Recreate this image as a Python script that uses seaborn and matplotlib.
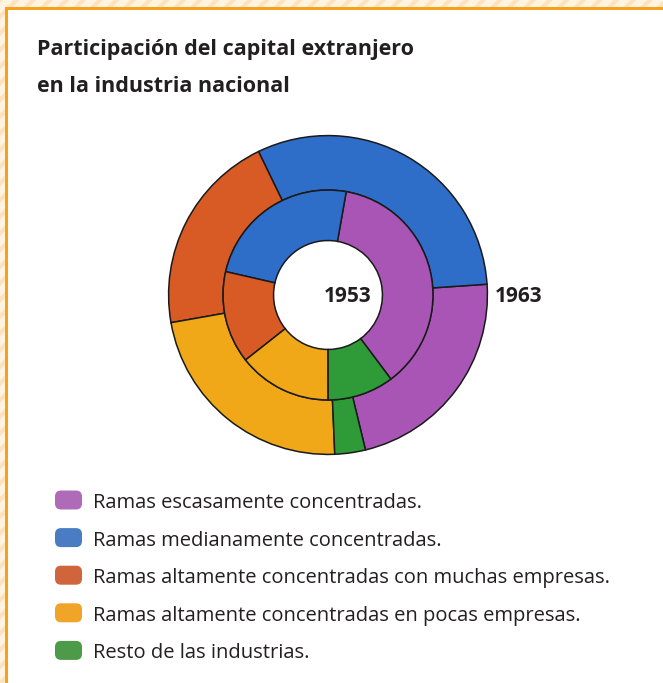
import matplotlib
matplotlib.use("Agg")
import matplotlib.pyplot as plt
import seaborn as sns
from matplotlib.patches import Rectangle, FancyBboxPatch

# Data: share of foreign capital by industry branch (percent)
categories = [
    "Ramas escasamente concentradas.",
    "Ramas medianamente concentradas.",
    "Ramas altamente concentradas con muchas empresas.",
    "Ramas altamente concentradas en pocas empresas.",
    "Resto de las industrias.",
]
share_1953 = [37.0, 24.2, 14.2, 14.4, 10.2]
share_1963 = [22.3, 31.1, 20.6, 22.9, 3.1]
years = ["1953", "1963"]
title_lines = ["Participación del capital extranjero", "en la industria nacional"]

colors = sns.color_palette(["#a855b5", "#2f6ec8", "#d85a25", "#f0a818", "#2f9a38"])
legend_colors = sns.color_palette(["#b06bb8", "#4a7cc4", "#d0643a", "#f0a428", "#4d9a48"])

sns.set_theme(style="white")
plt.rcParams["font.family"] = ["Open Sans", "DejaVu Sans"]
plt.rcParams["hatch.linewidth"] = 3.0

W, H = 663, 683
fig = plt.figure(figsize=(W / 100, H / 100), dpi=100)
px = fig.dpi_scale_trans


def iy(y):
    """image-style y (from top, px) -> inches from bottom"""
    return (H - y) / 100


# Page frame: striped margin, orange rule, white panel
fig.patches.append(Rectangle((0, 0), W / 100, H / 100, transform=px,
                             facecolor="#fff4e2", edgecolor="#fde3bd",
                             hatch="//", linewidth=0, zorder=0))
fig.patches.append(Rectangle((5 / 100, 0), W / 100, iy(7), transform=px,
                             facecolor="#f7a11a", edgecolor="none", zorder=1))
fig.patches.append(Rectangle((8 / 100, 0), W / 100, iy(10), transform=px,
                             facecolor="white", edgecolor="none", zorder=2))

# Title
for text, base in zip(title_lines, (55, 92)):
    fig.text(0.37, iy(base), text, transform=px, fontsize=15.5,
             fontweight="bold", color="#231f20", va="baseline")

# Nested donut
cx, cy, R = 328, 295, 161
ax = fig.add_axes([(cx - R) / W, (H - cy - R) / H, 2 * R / W, 2 * R / H])
ax.set_zorder(3)
edge = dict(edgecolor="#1a1a1a", linewidth=1.1)
ring_outer_in = 106 / 161
hole = 55 / 161
ax.pie(share_1963, colors=colors, radius=1.0, startangle=-76.4,
       counterclock=True, wedgeprops=dict(width=1.0 - ring_outer_in, **edge))
ax.pie(share_1953, colors=colors, radius=ring_outer_in, startangle=-53.2,
       counterclock=True, wedgeprops=dict(width=ring_outer_in - hole, **edge))
ax.set_xlim(-1.01, 1.01)
ax.set_ylim(-1.01, 1.01)
ax.set_aspect("equal")
ax.axis("off")

ax.text(0.12, -0.01, years[0], ha="center", va="center", fontsize=15,
        fontweight="bold", color="#231f20")
ax.text(1.195, -0.01, years[1], ha="center", va="center", fontsize=15,
        fontweight="bold", color="#231f20", clip_on=False)

# Legend
for i, (label, col) in enumerate(zip(categories, legend_colors)):
    yc = 500 + 37.6 * i
    fig.patches.append(FancyBboxPatch((0.59, iy(yc) - 0.055), 0.19, 0.11,
                                      boxstyle="round,pad=0.04,rounding_size=0.06",
                                      transform=px, facecolor=col,
                                      edgecolor="none", zorder=3))
    fig.text(0.93, iy(yc + 8), label, transform=px, fontsize=14.5,
             color="#231f20", va="baseline", zorder=4)

fig.savefig("out.png", dpi=100)
